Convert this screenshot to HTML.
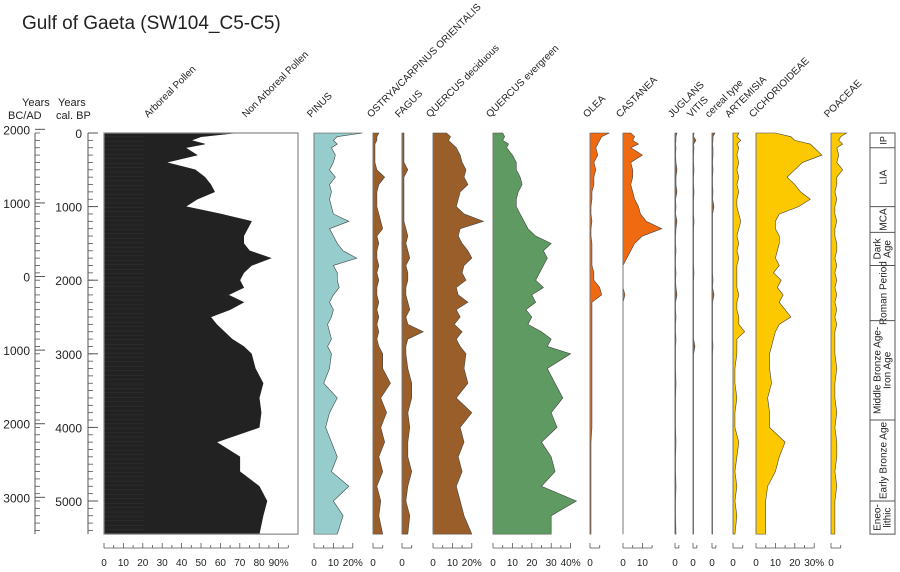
<!DOCTYPE html>
<html><head><meta charset="utf-8">
<style>
body{margin:0;background:#fff;}
svg text{font-family:"Liberation Sans",Arial,sans-serif;fill:#222;}
</style></head>
<body>
<svg id="chart" width="900" height="567" viewBox="0 0 900 567" xmlns="http://www.w3.org/2000/svg">
<text x="22" y="29" font-size="19">Gulf of Gaeta  (SW104_C5-C5)</text>
<text x="22" y="106" font-size="11">Years</text>
<text x="8" y="119" font-size="11">BC/AD</text>
<text x="58" y="106" font-size="11">Years</text>
<text x="56" y="119" font-size="11">cal. BP</text>
<g id="layer"></g>
</svg>
<script>
const ages=[0,50,100,150,200,300,400,500,600,700,800,900,1000,1100,1200,1300,1400,1500,1600,1700,1800,1900,2000,2100,2200,2300,2400,2500,2600,2700,2800,2900,3000,3200,3400,3600,3800,4000,4200,4400,4600,4800,5000,5200,5450];
const arboreal=[68,50,45,52,42,48,32,47,52,55,57,48,42,60,76,74,72,72,75,86,76,72,70,72,64,72,65,55,58,62,66,72,76,78,82,80,81,80,58,70,70,80,84,82,80];
const pinus=[25,12,10,12,9,11,10,8,11,8,9,8,9,10,18,8,10,12,15,22,10,12,12,13,10,8,10,9,7,8,9,7,9,8,5,12,8,6,9,12,9,18,10,15,12];
const ostrya=[3,2,2,1,1,1,1,2,6,3,2,2,2,3,4,5,2,3,2,2,3,2,3,2,2,3,2,3,2,3,2,3,5,5,9,4,7,4,6,3,5,2,4,3,5];
const fagus=[1,1,1,1,1,1,1,3,1,1,1,1,1,1,1,2,3,2,3,4,2,3,3,2,2,3,4,2,3,11,3,2,2,3,5,5,3,4,3,3,5,3,2,4,3];
const quercusDec=[7,9,8,10,12,14,15,17,16,18,14,13,12,16,26,14,13,15,18,20,16,15,17,12,13,18,12,14,11,15,12,14,17,16,18,12,20,14,16,13,15,12,14,16,20];
const quercusEve=[5,6,5,8,7,10,12,12,14,15,13,12,12,14,16,18,22,30,26,28,26,24,22,26,20,22,17,20,18,25,30,28,40,28,32,36,30,33,25,30,32,25,43,30,30];
const olea=[10,6,5,4,3,4,2,3,2,2,1,1,0.5,0.5,1,0.5,0.5,1,1,1,1,2,2,5,6,1,1,1,1,1,1,1,1,1,1,1,1,1,0.5,0.5,0.5,0.5,0.5,0.5,0.5];
const castanea=[4,6,5,8,4,10,4,5,5,4,5,6,8,9,12,20,10,6,4,2,0,0,0,0,1,0,0,0,0,0,0,0,0,0,0,0,0,0,0,0,0,0,0,0,0];
const juglans=[1,0.5,0.5,0.3,0.5,0.3,0.5,1,0.5,0.5,1,0.3,0.5,0.3,1,0.5,0.3,0.3,0.5,0.3,0.3,0.5,0.3,0.5,1,0.3,0.3,0.5,0.3,0.3,0.5,0.3,0.3,0.3,0.5,0.3,0.3,0.3,0.5,0.3,0.3,0.5,0.3,0.3,0.5];
const vitis=[0.5,0.3,1.5,0.3,0.5,0.3,0.3,0.5,0.3,0.3,0.5,0.3,0.3,0.3,0.5,0.3,0.3,0.3,0.3,0.3,0.3,0.5,0.3,0.3,0.3,0.3,0.3,0.3,0.3,0.3,0.3,1,0.3,0.3,0.3,0.3,0.3,0.3,0.3,0.3,0.3,0.3,0.3,0.3,0.3];
const cereal=[1.5,0.5,0.5,0.3,0.5,0.5,0.3,0.5,0.3,0.3,0.5,0.3,1,0.3,0.3,0.3,0.3,0.3,0.3,0.3,0.3,0.3,0.5,0.3,1,0.3,0.3,0.3,0.3,0.3,0.3,0.5,0.3,0.3,0.3,0.3,0.3,0.3,0.3,0.3,0.3,0.3,0.3,0.3,0.3];
const artemisia=[3,2,4,2,3,2,3,2,3,2,3,2,2,3,4,3,2,3,2,3,2,2,2,2,3,2,2,3,3,6,2,2,2,1,1,2,1,1,3,2,1,2,1,2,1];
const cichorioideae=[10,18,20,28,30,34,24,20,16,20,23,28,22,12,10,10,12,12,11,10,12,9,13,11,14,12,15,18,12,10,9,8,7,7,8,6,7,7,15,12,10,6,5,5,5];
const poaceae=[8,5,4,6,3,4,3,6,3,3,2,3,2,2,3,2,2,3,3,2,3,2,3,2,3,2,3,2,3,2,2,2,2,3,2,2,3,2,3,3,2,3,2,2,2];
const bpTicks=[0,1000,2000,3000,4000,5000];
const bcadTicks=[2000,1000,0,-1000,-2000,-3000];
const bcadLabels=["2000","1000","0","1000","2000","3000"];
const zoneNames=["IP","LIA","MCA","Dark Age","Roman Period","Middle Bronze Age-Iron Age","Early Bronze Age","Eneo-lithic"];
const zoneBounds=[0,200,1000,1350,1800,2550,3900,5000,5450];

const NS="http://www.w3.org/2000/svg";
const layer=document.getElementById('layer');
const Y0=133, PXY=0.0736, PXP=1.94, AGEMAX=5450;
function y(a){return Y0+a*PXY;}
function mk(tag,attrs,parent){const e=document.createElementNS(NS,tag);for(const k in attrs)e.setAttribute(k,attrs[k]);(parent||layer).appendChild(e);return e;}

function leftAxis(xl,lblX,name,majors,labels,conv){
  const g=mk('g',{});
  
  
  const top=y(0),bot=y(AGEMAX);
  mk('line',{x1:xl,y1:top,x2:xl,y2:bot,stroke:'#555','stroke-width':1},g);
  for(let a=0;a<=AGEMAX;a+=100){
    mk('line',{x1:xl,y1:y(a),x2:xl+5,y2:y(a),stroke:'#555','stroke-width':0.8},g);
  }
  majors.forEach((m,i)=>{const a=conv(m);
    mk('line',{x1:xl,y1:y(a),x2:xl+10,y2:y(a),stroke:'#555','stroke-width':1},g);
    const t=mk('text',{x:lblX,y:y(a)+5,'font-size':12,'text-anchor':'end'},g);t.textContent=labels[i];});
}
leftAxis(35,30,'bcad-axis',bcadTicks,bcadLabels,v=>1950-v);
leftAxis(88,82,'bp-axis',bpTicks,bpTicks.map(String),v=>v);

const panels=[
 {name:'pinus',label:'PINUS',data:pinus,x0:314,fill:'#96cccb',max:20,ticks:[0,10,20],lx:311},
 {name:'ostrya',label:'OSTRYA/CARPINUS ORIENTALIS',data:ostrya,x0:373,fill:'#9a5e2a',max:5,ticks:[0],lx:371},
 {name:'fagus',label:'FAGUS',data:fagus,x0:402,fill:'#9a5e2a',max:5,ticks:[0],lx:399},
 {name:'quercus-deciduous',label:'QUERCUS deciduous',data:quercusDec,x0:433,fill:'#9a5e2a',max:20,ticks:[0,10,20],lx:430},
 {name:'quercus-evergreen',label:'QUERCUS evergreen',data:quercusEve,x0:493,fill:'#5e9a62',max:40,ticks:[0,10,20,30,40],lx:490},
 {name:'olea',label:'OLEA',data:olea,x0:590,fill:'#f06a12',max:5,ticks:[0],lx:587},
 {name:'castanea',label:'CASTANEA',data:castanea,x0:623,fill:'#f06a12',max:15,ticks:[0,10],lx:620},
 {name:'juglans',label:'JUGLANS',data:juglans,x0:675,fill:'#9a5e2a',max:2,ticks:[0],lx:672},
 {name:'vitis',label:'VITIS',data:vitis,x0:693,fill:'#9a5e2a',max:2,ticks:[0],lx:691},
 {name:'cereal-type',label:'cereal type',data:cereal,x0:712,fill:'#9a5e2a',max:2,ticks:[0],lx:709},
 {name:'artemisia',label:'ARTEMISIA',data:artemisia,x0:733,fill:'#fcc800',max:5,ticks:[0],lx:729},
 {name:'cichorioideae',label:'CICHORIOIDEAE',data:cichorioideae,x0:756,fill:'#fcc800',max:30,ticks:[0,10,20,30],lx:753},
 {name:'poaceae',label:'POACEAE',data:poaceae,x0:831,fill:'#fcc800',max:5,ticks:[0],lx:828}
];
function header(txt,x,name){
  const t=mk('text',{x:x,y:118,'font-size':10,transform:`rotate(-45 ${x} 118)`});
  t.textContent=txt;
  
  
}
function bottomAxis(x0,max,ticks,name,pct){
  const g=mk('g',{});
  
  
  const ya=548,x1=x0+max*PXP;
  mk('line',{x1:x0,y1:ya,x2:x1,y2:ya,stroke:'#555','stroke-width':0.8},g);
  for(let v=0;v<=max;v+=5){const h=(v%10===0)?5:3;
    mk('line',{x1:x0+v*PXP,y1:ya,x2:x0+v*PXP,y2:ya-h,stroke:'#555','stroke-width':0.8},g);}
  if(max<5) mk('line',{x1:x1,y1:ya,x2:x1,y2:ya-3,stroke:'#555','stroke-width':0.8},g);
  ticks.forEach((v,i)=>{const t=mk('text',{x:x0+v*PXP,y:566,'font-size':10,'text-anchor':'middle'},g);
    t.textContent=v+((pct&&i===ticks.length-1&&v>0)?'%':'');});
}

(function(){
  const x0=104,g=mk('g',{});
  
  
  let pts=[`${x0},${y(0)}`];
  ages.forEach((a,i)=>pts.push(`${x0+arboreal[i]*PXP},${y(a)}`));
  pts.push(`${x0},${y(AGEMAX)}`);
  mk('polygon',{points:pts.join(' '),fill:'#222',stroke:'#222','stroke-width':0.6},g);
  for(let a=50;a<AGEMAX;a+=60) mk('line',{x1:x0,y1:y(a),x2:x0+40,y2:y(a),stroke:'#3a3a3a','stroke-width':0.4},g);
  mk('rect',{x:x0,y:y(0),width:100*PXP,height:y(AGEMAX)-y(0),fill:'none',stroke:'#888','stroke-width':1.2},g);
})();
header('Arboreal Pollen',148,'arboreal-pollen-header');
header('Non Arboreal Pollen',246,'non-arboreal-pollen-header');
bottomAxis(104,95,[0,10,20,30,40,50,60,70,80,90],'arboreal-x-axis',true);

panels.forEach(p=>{
  const g=mk('g',{});
  
  
  let pts=[`${p.x0},${y(0)}`];
  ages.forEach((a,i)=>pts.push(`${p.x0+p.data[i]*PXP},${y(a)}`));
  pts.push(`${p.x0},${y(AGEMAX)}`);
  const poly=mk('polygon',{points:pts.join(' '),fill:p.fill,stroke:'#444','stroke-width':0.6},g);
  
  
  mk('line',{x1:p.x0,y1:y(0),x2:p.x0,y2:y(AGEMAX),stroke:'#777','stroke-width':1},g);
  header(p.label,p.lx,p.name+'-header');
  bottomAxis(p.x0,p.max,p.ticks,p.name+'-x-axis',p.ticks.length>2);
});

(function(){
  const g=mk('g',{});
  
  
  const x=870,w=25;
  mk('rect',{x:x,y:y(0),width:w,height:y(AGEMAX)-y(0),fill:'#fff',stroke:'#555','stroke-width':1},g);
  zoneNames.forEach((n,i)=>{
    const a0=zoneBounds[i],a1=zoneBounds[i+1];
    if(i>0) mk('line',{x1:x,y1:y(a0),x2:x+w,y2:y(a0),stroke:'#555','stroke-width':1},g);
    const cy=(y(a0)+y(a1))/2;
    const parts=n==='Dark Age'?['Dark','Age']:n==='Middle Bronze Age-Iron Age'?['Middle Bronze Age-','Iron Age']:n==='Eneo-lithic'?['Eneo-','lithic']:[n];
    parts.forEach((s,j)=>{const cx=x+w/2+(parts.length===1?4:(j===0?-2:8));
      const t=mk('text',{x:cx,y:cy,'font-size':n==='IP'?9:10,'text-anchor':'middle',transform:`rotate(-90 ${cx} ${cy})`},g);
      t.textContent=s;});
  });
})();
</script>
</body></html>
